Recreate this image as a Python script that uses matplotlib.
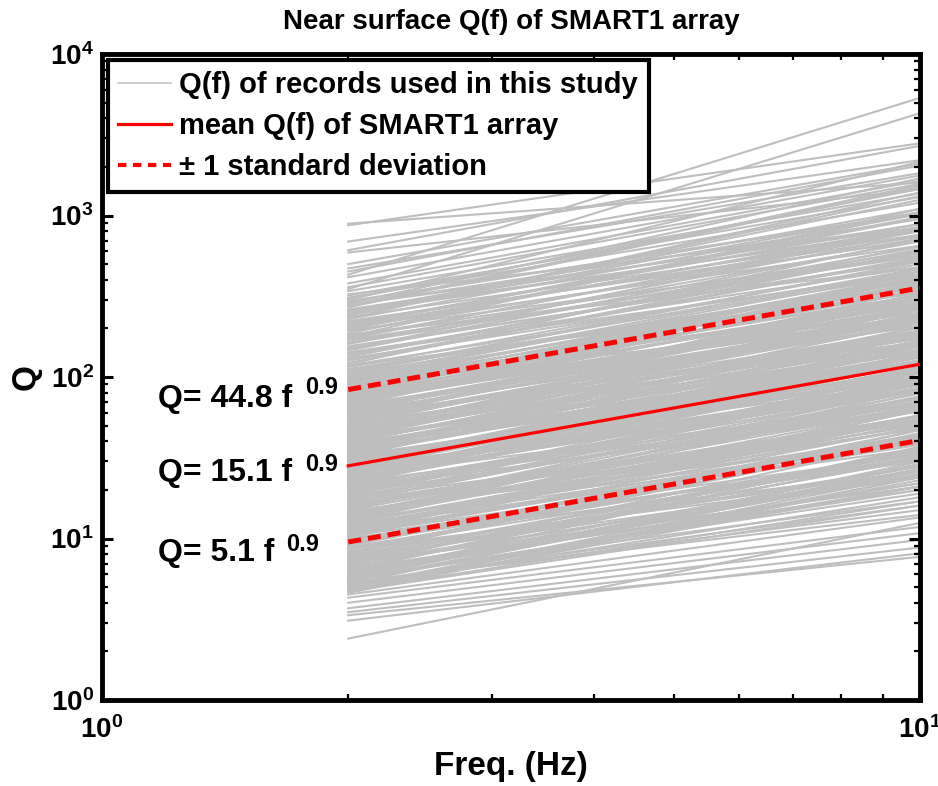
import numpy as np
import matplotlib
matplotlib.use("Agg")
import matplotlib.pyplot as plt
from matplotlib.ticker import FuncFormatter, LogLocator, NullFormatter

plt.rcParams["font.family"] = ["Liberation Sans", "DejaVu Sans"]
plt.rcParams["font.weight"] = "bold"
plt.rcParams["mathtext.fontset"] = "custom"
plt.rcParams["mathtext.rm"] = "Liberation Sans:bold"
plt.rcParams["mathtext.it"] = "Liberation Sans:bold"
plt.rcParams["mathtext.bf"] = "Liberation Sans:bold"

# frequency band of the records (Hz)
freq_band = [2.0, 10.0]

# Q of each record at 2 Hz and at 10 Hz
q_at_2hz = [
    890, 870, 690, 610, 590, 500, 470, 450, 430, 415, 380, 360, 350, 340,
    320, 310, 300, 295, 285, 280, 270, 262, 255, 250, 242, 235, 228, 222,
    215, 210, 204, 198, 192, 186, 180, 175, 170, 165, 160, 155, 150, 146,
    142, 138, 134, 130, 126, 122, 118, 115, 112, 109, 106, 103, 100, 98,
    96, 94, 92, 90, 88, 86, 84, 83, 81, 79, 77, 75, 73,
    72, 71, 70, 69, 68, 67, 66, 65, 64, 63,
    62, 61, 60, 59, 58, 57, 56, 55, 54, 53,
    52, 51, 50, 49, 48, 47, 46.5, 46, 45, 44,
    43, 42, 41.5, 41, 40, 39, 38.5, 38, 37, 36.5,
    36, 35, 34.5, 34, 33, 32.5, 32, 31, 30.5, 30,
    29.5, 29, 28.5, 28, 27.5, 27, 26.5, 26, 25.5, 25,
    24.5, 24, 23.5, 23, 22.5, 22, 21.5, 21, 20.5, 20,
    19.5, 19, 18.5, 18, 17.5, 17, 16.6, 16.2, 15.8, 15.4,
    15, 14.6, 14.2, 13.8, 13.4, 13, 12.7, 12.4, 12.1, 11.8,
    11.5, 11.2, 10.9, 10.6, 10.3, 10,
    9.7, 9.4, 9.1, 8.8, 8.5, 8.3, 8.1, 7.9, 7.7, 7.5, 7.3, 7.1, 6.9, 6.7,
    6.6, 6.4, 6.3, 6.1, 6.0, 5.9, 5.8, 5.7, 5.6, 5.5, 5.4, 5.3, 5.2, 5.1,
    5.0, 4.9, 4.8, 4.7, 4.6,
    4.5, 4.3, 4.0, 3.7, 3.5, 3.35, 3.1, 2.4,
    280, 240, 205, 178, 152, 133, 117, 104, 93, 85,
    78, 74, 70.5, 67.5, 64.5, 61.5, 58.5, 55.5, 52.5, 49.5,
    47.5, 45.5, 43.5, 42.5, 40.5, 39.5, 37.5, 35.5, 33.5, 31.5,
    30.8, 29.2, 28.2, 27.2, 26.2, 25.2, 24.2, 23.2, 22.2, 21.2,
    20.2, 19.2, 18.2, 17.2, 16.4, 15.6, 14.8, 14, 13.2, 12.5,
    11.9, 11.3, 10.8, 10.1, 9.5, 9, 8.6, 8.2, 7.8, 7.4,
    7.0, 6.5, 6.2, 5.85, 5.65, 5.45, 5.25, 5.05,
    82, 76, 68.5, 62.5, 57.5, 53.5, 50.5, 48.5, 44.5, 42.2,
    39.2, 37.8, 36.2, 34.8, 33.2, 31.8, 30.2, 29.8, 28.8, 27.8,
    26.8, 25.8, 24.8, 23.8, 22.8, 21.8, 20.8, 19.8, 18.8, 17.8,
    16.9, 16, 15.2, 14.4, 13.6, 12.9, 12.2, 11.6, 11, 10.4,
    325, 305, 290, 275, 258, 245, 232, 218, 208, 195,
    183, 172, 162, 148, 140, 128, 120, 110, 101, 95,
    89, 87, 80, 77.5, 74.5,
    9.9, 9.2, 8.7, 8.0, 7.6, 7.2, 6.8, 6.45, 6.15, 5.75,
    5.35, 4.95, 4.75, 11.4, 10.7, 12.6, 13.3, 14.1,
]
q_at_10hz = [
    1600, 2800, 2200, 2700, 1450, 2100, 1830, 2040, 5350, 1770, 1640, 1570, 4300, 1370,
    1300, 1200, 2150, 1020, 1700, 950, 1500, 880, 1100, 820, 1250, 760, 1020, 700,
    890, 980, 650, 850, 720, 1050, 600, 800, 560, 690, 760, 520, 640, 700,
    480, 590, 620, 450, 540, 600, 430, 500, 390, 470, 520, 410, 360, 450,
    400, 340, 430, 380, 320, 370, 300, 400, 340, 290, 350, 310, 270,
    310, 241, 364, 269, 326, 208, 383, 267, 230, 290,
    267, 207, 312, 230, 278, 177, 325, 226, 194, 244,
    224, 173, 260, 191, 230, 146, 270, 189, 162, 202,
    185, 143, 216, 160, 192, 121, 223, 156, 133, 168,
    155, 119, 179, 133, 158, 101, 186, 127, 110, 138,
    127, 99, 148, 109, 132, 84, 154, 107, 92, 115,
    105, 82, 122, 90, 108, 68, 125, 86, 74, 92,
    84, 65, 96, 70, 84, 53, 96, 66, 57, 71,
    65, 50, 74, 54, 64, 40, 74, 51, 44, 54,
    49, 38, 57, 41, 49, 31,
    42, 32, 47, 34, 41, 26, 47, 32, 28, 35, 31, 24, 36, 26,
    32, 20, 37, 25, 22, 27, 25, 19, 29, 21, 26, 16, 30, 21,
    18, 23, 21, 16, 24,
    13.5, 11.8, 10.8, 9.8, 8.8, 7.7, 8.1, 12.5,
    840, 1320, 820, 1100, 530, 650, 330, 520, 410, 320,
    234, 407, 282, 418, 226, 301, 164, 278, 231, 188,
    143, 250, 174, 264, 142, 194, 105, 178, 147, 120,
    92, 161, 113, 169, 92, 123, 68, 116, 98, 81,
    61, 106, 73, 107, 57, 76, 41, 70, 58, 48,
    36, 62, 43, 63, 33, 44, 24, 41, 34, 28,
    21, 36, 25, 36, 20, 27, 15, 25,
    385, 251, 384, 238, 242, 348, 162, 218, 236, 122,
    184, 125, 203, 132, 139, 207, 97, 134, 153, 81,
    126, 85, 139, 90, 96, 142, 67, 89, 100, 52,
    79, 53, 85, 55, 57, 84, 39, 52, 58, 30,
    845, 1460, 1040, 1540, 800, 1050, 1390, 740, 960, 565,
    476, 826, 583, 829, 434, 550, 720, 374, 465, 276,
    231, 418, 288, 434, 231,
    26, 44, 31, 45, 24, 31, 41, 22, 28, 17,
    14, 24, 17, 64, 33, 54, 80, 48,
]

# fitted Q(f) = Q0 f^eta: +1 sd, mean, -1 sd
fit_q0 = [44.8, 15.1, 5.1]
fit_eta = 0.9
fit_labels = ["Q= 44.8 f", "Q= 15.1 f", "Q= 5.1 f"]

legend_labels = [
    "Q(f) of records used in this study",
    "mean Q(f) of SMART1 array",
    "\u00b1 1 standard deviation",
]

gray = "#bebebe"
red = "#ff0000"

fig = plt.figure(figsize=(9.38, 7.86), dpi=100)
ax = fig.add_axes([102 / 938, 1 - 700 / 786, 818 / 938, 646 / 786])

for qa, qb in zip(q_at_2hz, q_at_10hz):
    ax.plot(freq_band, [qa, qb], color=gray, lw=1.5, zorder=1)

f = np.array(freq_band)
upper = fit_q0[0] * f ** fit_eta
mean = fit_q0[1] * f ** fit_eta
lower = fit_q0[2] * f ** fit_eta
ax.plot(f, mean, color=red, lw=2.3, zorder=3)
ax.plot(f, upper, color=red, lw=3.6, dashes=(2.6, 1.4), zorder=3)
ax.plot(f, lower, color=red, lw=3.6, dashes=(2.6, 1.4), zorder=3)

ax.set_xscale("log")
ax.set_yscale("log")
ax.set_xlim(1, 10)
ax.set_ylim(1, 1e4)

fmt = FuncFormatter(lambda v, p: r"$\mathrm{10^{%d}}$" % round(np.log10(v)))
ax.xaxis.set_major_locator(LogLocator(base=10, numticks=5))
ax.yaxis.set_major_locator(LogLocator(base=10, numticks=10))
ax.xaxis.set_minor_locator(LogLocator(base=10, subs=np.arange(2, 10), numticks=10))
ax.yaxis.set_minor_locator(LogLocator(base=10, subs=np.arange(2, 10), numticks=10))
ax.xaxis.set_major_formatter(fmt)
ax.yaxis.set_major_formatter(fmt)
ax.xaxis.set_minor_formatter(NullFormatter())
ax.yaxis.set_minor_formatter(NullFormatter())
ax.tick_params(which="both", direction="in", top=True, right=True, labelsize=20)
ax.tick_params(which="major", length=8, width=2.2)
ax.tick_params(which="minor", length=4, width=1.6)
ax.tick_params(axis="x", pad=12)
ax.tick_params(axis="y", pad=6)
for sp in ax.spines.values():
    sp.set_linewidth(3.5)

ax.set_title("Near surface Q(f) of SMART1 array", fontsize=20, fontweight="bold", pad=18)
ax.set_xlabel("Freq. (Hz)", fontsize=24, fontweight="bold", labelpad=5)
ax.set_ylabel("Q", fontsize=24, fontweight="bold", labelpad=6)

# legend
h_gray = plt.Line2D([], [], color=gray, lw=1.1)
h_mean = plt.Line2D([], [], color=red, lw=2.3)
h_sd = plt.Line2D([], [], color=red, lw=3.0, dashes=(2.0, 1.6))
leg = ax.legend([h_gray, h_mean, h_sd], legend_labels, loc="upper left",
                bbox_to_anchor=(0.007, 0.99), borderaxespad=0, fontsize=21,
                fancybox=False, framealpha=1, edgecolor="black",
                handlelength=1.8, handletextpad=0.3, labelspacing=0.45,
                borderpad=0.36)
leg.get_frame().set_linewidth(3)
leg.set_zorder(5)

# fit annotations
base_y = [407, 481, 561]
sup_y = [394, 471, 551]
sup_x = [305, 305, 286]
for lab, by, sy, sx in zip(fit_labels, base_y, sup_y, sup_x):
    fig.text(158 / 938, 1 - by / 786, lab, fontsize=23, fontweight="bold", va="baseline")
    fig.text(sx / 938, 1 - sy / 786, "0.9", fontsize=17, fontweight="bold", va="baseline")

fig.savefig("out.png", dpi=100)
